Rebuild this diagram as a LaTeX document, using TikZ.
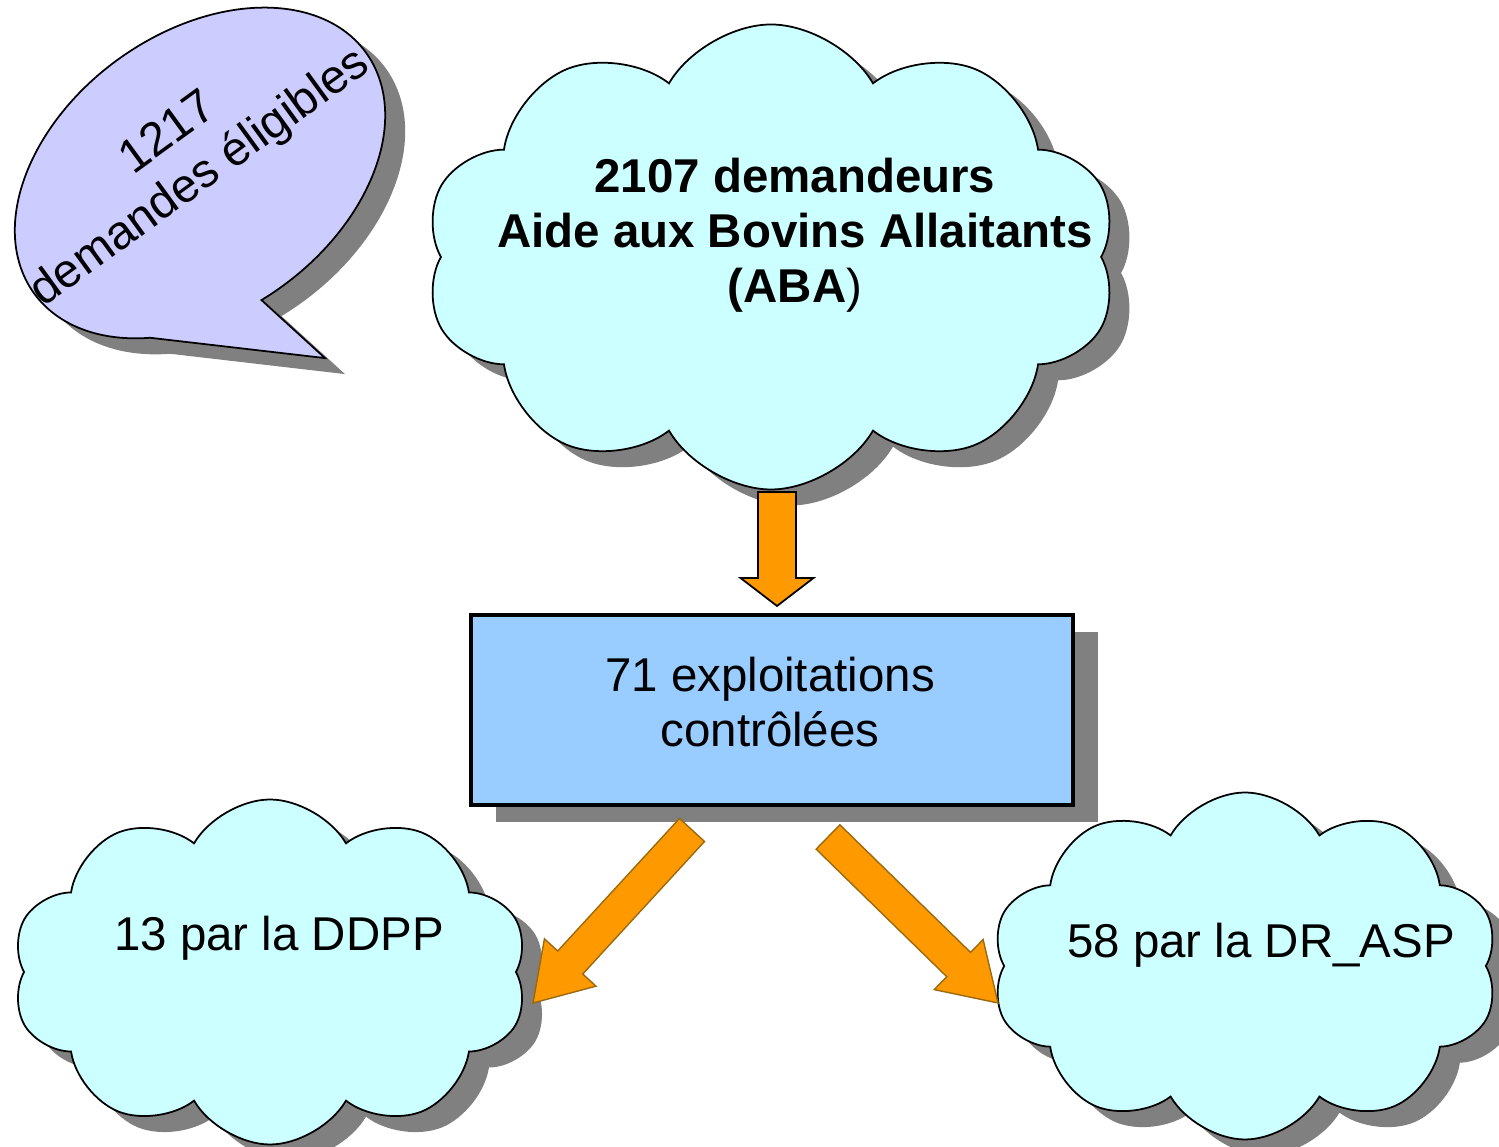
\documentclass[tikz,border=0pt]{standalone}
\usepackage{fontspec}
\setmainfont{Liberation Sans}
\usetikzlibrary{shapes.symbols, shadows, calc}

\definecolor{nuage}{HTML}{CCFFFF}
\definecolor{bulle}{HTML}{CCCCFF}
\definecolor{cadre}{HTML}{99CCFF}
\definecolor{orangeflc}{HTML}{FF9900}
\definecolor{ombre}{HTML}{808080}
\definecolor{bordflc}{HTML}{9A6A10}

\tikzset{
	ombree/.style={drop shadow={shadow xshift=0.2cm, shadow yshift=-0.16cm, fill=ombre, opacity=1}},
	nuagebox/.style={cloud, cloud puffs=10, cloud puff arc=120, draw=black, line width=0.5pt, fill=nuage, ombree, inner sep=0pt},
	texte/.style={align=center, font=\fontsize{13.5pt}{15.6pt}\selectfont},
	fleche/.style={fill=orangeflc, draw=black, line width=0.5pt, line join=miter},
	flechebis/.style={fill=orangeflc, draw=bordflc, line width=0.4pt, line join=miter},
}

\newcommand{\grossefleche}[6]{%
	\coordinate (base) at ($(#3)!#6!(#2)$);
	\filldraw[#1] ($(#2)!#4!90:(#3)$) -- ($(base)!#4!90:(#3)$) -- ($(base)!#5!90:(#3)$) -- (#3)
		-- ($(base)!#5!-90:(#3)$) -- ($(base)!#4!-90:(#3)$) -- ($(#2)!#4!-90:(#3)$) -- cycle;
}
\newcommand{\contourbulle}{(263:2.05cm and 1.40cm) arc[start angle=263, end angle=588, x radius=2.05cm, y radius=1.40cm] -- (-0.077,-2.232) -- cycle}

\begin{document}
\begin{tikzpicture}
	\useasboundingbox (0,0) rectangle (14.99,11.47);

	\begin{scope}[shift={(2.20,9.58)}, rotate=36]
		\fill[ombre] \contourbulle;
	\end{scope}
	\begin{scope}[shift={(2.00,9.74)}, rotate=36]
		\filldraw[fill=bulle, draw=black, line width=0.5pt] \contourbulle;
	\end{scope}
	\node[texte, rotate=36] (bulletexte) at (1.85, 9.90) {1217\\demandes éligibles};

	\node[nuagebox, minimum width=6.93cm, minimum height=4.65cm] (aba) at (7.71, 8.90) {};
	\node[texte] (abatexte) at (7.95, 9.12) {\textbf{2107 demandeurs}\\\textbf{Aide aux Bovins Allaitants}\\\textbf{(ABA})};

	\node[draw=black, line width=0.9pt, fill=cadre, drop shadow={shadow xshift=0.25cm, shadow yshift=-0.17cm, fill=ombre, opacity=1}, minimum width=6.02cm, minimum height=1.90cm] (controles) at (7.72, 4.37) {};
	\node[texte] (controlestexte) at (7.70, 4.45) {71 exploitations\\contrôlées};

	\node[nuagebox, minimum width=5.16cm, minimum height=3.45cm] (ddpp) at (2.70, 1.75) {};
	\node[texte] (ddpptexte) at (2.79, 2.09) {13 par la DDPP};

	\node[nuagebox, minimum width=5.07cm, minimum height=3.47cm] (drasp) at (12.45, 1.81) {};
	\node[texte] (drasptexte) at (12.61, 2.02) {58 par la DR\_ASP};

	\coordinate (haut1) at (7.77, 6.55);
	\coordinate (haut2) at (7.77, 5.41);
	\grossefleche{fleche}{haut1}{haut2}{0.19cm}{0.365cm}{0.28cm}

	\coordinate (gauche1) at (6.92, 3.17);
	\coordinate (gauche2) at (5.33, 1.44);
	\grossefleche{flechebis}{gauche1}{gauche2}{0.17cm}{0.35cm}{0.55cm}

	\coordinate (droite1) at (8.28, 3.10);
	\coordinate (droite2) at (9.98, 1.44);
	\grossefleche{flechebis}{droite1}{droite2}{0.17cm}{0.35cm}{0.55cm}
\end{tikzpicture}
\end{document}
